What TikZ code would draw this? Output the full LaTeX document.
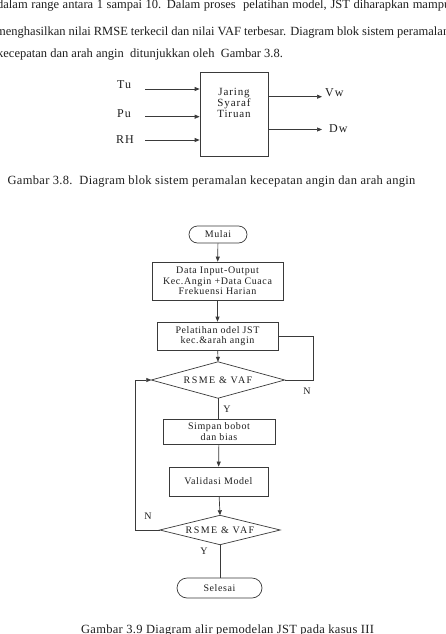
\documentclass[tikz,border=0pt]{standalone}
\usepackage{fontspec}
\setmainfont{Liberation Serif}
\newfontfamily\ff{Liberation Serif}[LetterSpace=6]
\newfontfamily\df{Liberation Serif}[LetterSpace=14]
\newfontfamily\lf{Liberation Serif}[LetterSpace=8]
\newfontfamily\cf{Liberation Serif}[LetterSpace=2.5]
\usetikzlibrary{arrows.meta}
\definecolor{linec}{HTML}{3A3A3A}
\definecolor{txt}{HTML}{1E1E1E}
\begin{document}
\begin{tikzpicture}[x=1pt,y=-1pt,
  every node/.style={text=txt},
  box/.style={draw=linec, line width=0.7pt, rectangle, inner sep=0pt, align=center,
    font=\ff\fontsize{10}{10.5}\selectfont},
  stad/.style={box, rounded corners=#1},
  dec/.style={inner sep=0pt, font=\df\fontsize{10}{10.5}\selectfont},
  lab/.style={inner sep=0pt, font=\ff\fontsize{10}{10.5}\selectfont},
  blab/.style={inner sep=0pt, font=\lf\fontsize{12}{13}\selectfont},
  arr/.style={draw=linec, line width=0.7pt, -{Triangle[length=5pt,width=4pt]}},
  ln/.style={draw=linec, line width=0.7pt},
  body/.style={inner sep=0pt, anchor=base west, font=\fontsize{12.5}{14}\selectfont},
  captxt/.style={inner sep=0pt, anchor=base, font=\cf\fontsize{12.5}{14}\selectfont}
]
\useasboundingbox (0,0) rectangle (445,634);
\clip (0,0) rectangle (445,634);
\fill[white] (0,0) rectangle (445,634);

% body text
\node[body] (l1) at (-3,9) {\makebox[453pt][s]{dalam range antara 1 sampai 10. Dalam proses\ \ pelatihan model, JST diharapkan mampu}};
\node[body] (l2) at (-4,35.5) {\makebox[453pt][s]{menghasilkan nilai RMSE terkecil dan nilai VAF terbesar. Diagram blok sistem peramalan}};
\node[body] (l3) at (-3,57.5) {kecepatan dan arah angin\ \ ditunjukkan oleh\ \ Gambar 3.8.};

% block diagram
\node[draw=linec, line width=0.7pt, minimum width=68pt, minimum height=84pt, inner sep=0pt,
  label={[yshift=11pt, align=center, font=\lf\fontsize{11}{11}\selectfont, text=txt]center:Jaring\\Syaraf\\Tiruan}]
  (jst) at (234,114) {};
\node[blab, anchor=west] (tu) at (117,85) {Tu};
\node[blab, anchor=west] (pu) at (117,113.5) {Pu};
\node[blab, anchor=west] (rh) at (116,139.5) {RH};
\coordinate (tua) at (145,89);
\coordinate (pua) at (145,116.7);
\coordinate (rha) at (145,140);
\draw[arr] (tua) -- (jst.west |- tua);
\draw[arr] (pua) -- (jst.west |- pua);
\draw[arr] (rha) -- (jst.west |- rha);
\coordinate (vwa) at (322,96.7);
\coordinate (dwa) at (322,129.5);
\draw[arr] (jst.east |- vwa) -- (vwa);
\draw[arr] (jst.east |- dwa) -- (dwa);
\node[blab, anchor=west] (vw) at (325,93) {Vw};
\node[blab, anchor=west] (dw) at (329,129) {Dw};

\node[captxt] (cap1) at (211.5,184) {Gambar 3.8.\ \ Diagram blok sistem peramalan kecepatan angin dan arah angin};

% flowchart
\node[stad=8.5pt, minimum width=58pt, minimum height=17pt] (mulai) at (218,234.5) {Mulai};
\node[box, minimum width=131pt, minimum height=38pt] (data) at (217.5,281) {Data Input-Output\\Kec.Angin +Data Cuaca\\Frekuensi Harian};
\node[box, minimum width=121pt, minimum height=28pt] (latih) at (217.5,336) {Pelatihan odel JST\\kec.\&arah angin};
\node[dec, minimum width=133pt, minimum height=36pt] (d1) at (218,380) {RSME \& VAF};
\draw[ln] (d1.west) -- (d1.north) -- (d1.east) -- (d1.south) -- cycle;
\node[box, minimum width=112pt, minimum height=25pt] (simpan) at (219,431.5) {Simpan bobot\\dan bias};
\node[box, minimum width=99pt, minimum height=29pt] (valid) at (218.5,481.5) {Validasi Model};
\node[dec, minimum width=120pt, minimum height=29pt] (d2) at (220,530) {RSME \& VAF};
\draw[ln] (d2.west) -- (d2.north) -- (d2.east) -- (d2.south) -- cycle;
\node[stad=10pt, minimum width=85pt, minimum height=20pt] (selesai) at (219.5,588) {Selesai};

\draw[arr] (mulai) -- (data);
\draw[arr] (data) -- (latih);
\draw[arr] (latih) -- (d1.north);
\draw[ln] (latih.east) -- (313,336) |- (d1.east);
\draw[ln] (d1.south) -- (d1.south |- simpan.north);
\draw[arr] (simpan) -- (valid);
\draw[arr] (valid) -- (d2.north);
\draw[arr] (d2.west) -- (135,530) |- (d1.west);
\draw[ln] (d2.south) -- (d2.south |- selesai.north);

\node[lab] (n1) at (307,391) {N};
\node[lab] (y1) at (227,409) {Y};
\node[lab] (n2) at (148,516) {N};
\node[lab] (y2) at (204,551) {Y};

\node[captxt] (cap2) at (227.5,633.5) {Gambar 3.9 Diagram alir pemodelan JST pada kasus III};
\end{tikzpicture}
\end{document}
